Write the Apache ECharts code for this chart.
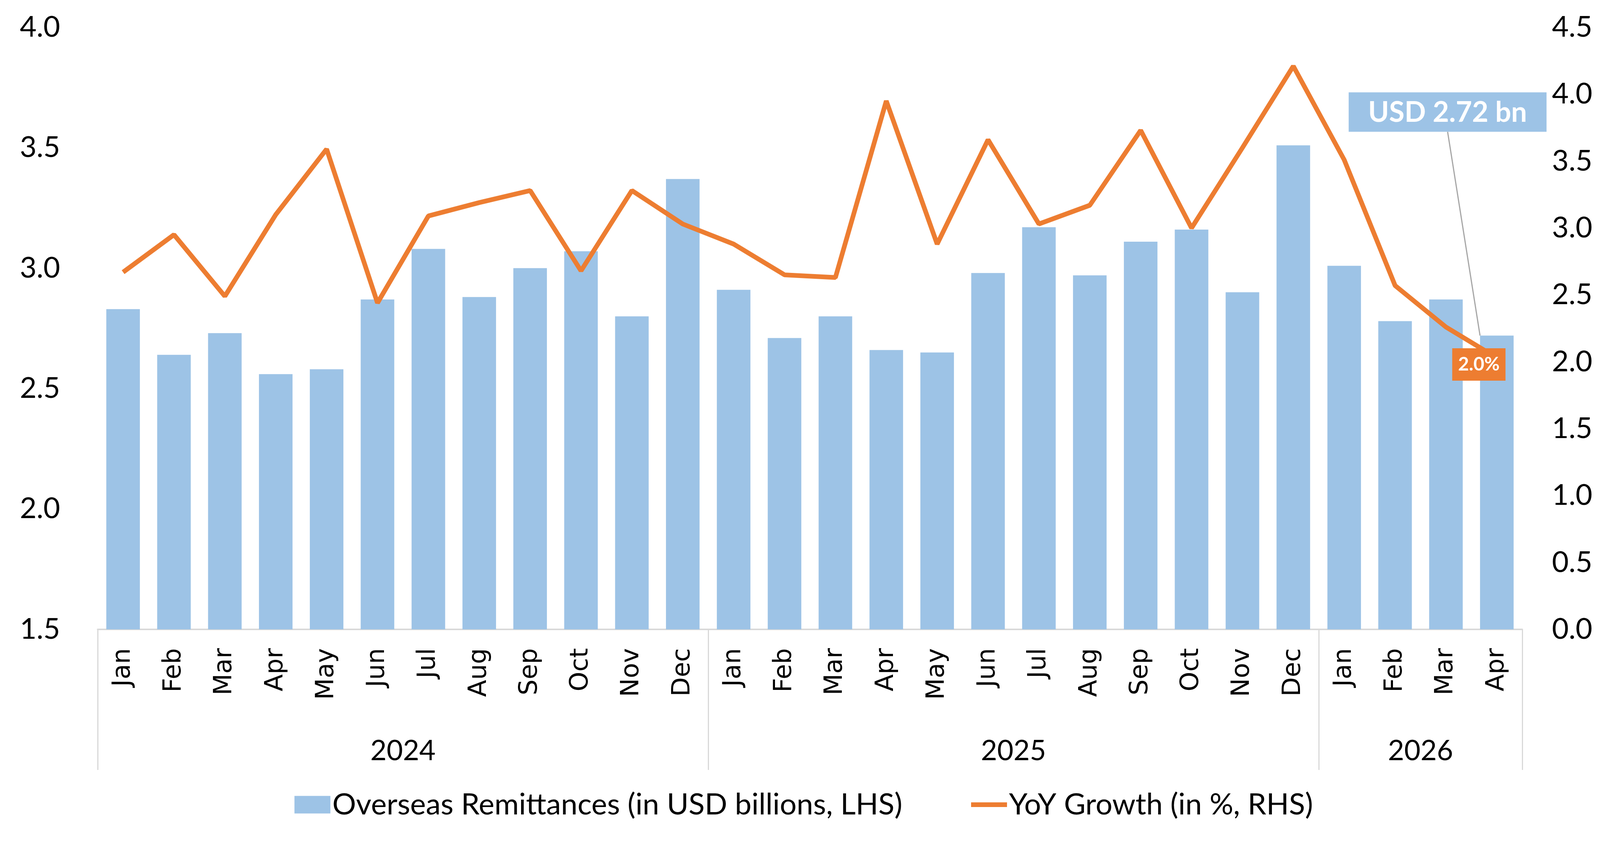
<!DOCTYPE html>
<html>
<head>
<meta charset="utf-8">
<script src="https://cdn.jsdelivr.net/npm/echarts@6/dist/echarts.min.js"></script>
<style>html,body{margin:0;padding:0;background:#fff;overflow:hidden;}#c{width:4115px;height:2154px;}</style>
</head>
<body>
<div id="c"></div>
<script>
// ---- data ----
const months = ['Jan','Feb','Mar','Apr','May','Jun','Jul','Aug','Sep','Oct','Nov','Dec',
                'Jan','Feb','Mar','Apr','May','Jun','Jul','Aug','Sep','Oct','Nov','Dec',
                'Jan','Feb','Mar','Apr'];
const years = ['2024','2025','2026'];
const monthsPerYear = [12, 12, 4];
const remittances = [2.83, 2.64, 2.73, 2.56, 2.58, 2.87, 3.08, 2.88, 3.00, 3.07, 2.80, 3.37,
                     2.91, 2.71, 2.80, 2.66, 2.65, 2.98, 3.17, 2.97, 3.11, 3.16, 2.90, 3.51,
                     3.01, 2.78, 2.87, 2.72];
const yoyGrowth = [2.67, 2.95, 2.49, 3.10, 3.59, 2.44, 3.09, 3.19, 3.28, 2.68, 3.28, 3.03,
                   2.88, 2.65, 2.63, 3.95, 2.88, 3.66, 3.03, 3.17, 3.73, 3.00, 3.60, 4.21,
                   3.51, 2.57, 2.26, 2.03];
const barName = 'Overseas Remittances (in USD billions, LHS)';
const lineName = 'YoY Growth (in %, RHS)';

// ---- derived ----
const last = remittances.length - 1;
const bounds = [0];
monthsPerYear.forEach(n => bounds.push(bounds[bounds.length - 1] + n));
const centers = years.map((y, i) => (bounds[i] + bounds[i + 1]) / 2);

const FONT = 'Lato';
const chart = echarts.init(document.getElementById('c'));
chart.setOption({
  backgroundColor: '#ffffff',
  animation: false,
  grid: { left: 250, right: 218, top: 70, bottom: 542, containLabel: false },
  legend: {
    left: 'center', top: 2018,
    itemWidth: 92, itemHeight: 45, itemGap: 176,
    textStyle: { fontFamily: FONT, fontSize: 76, color: '#000' },
    data: [
      { name: barName, icon: 'rect' },
      { name: lineName, icon: 'path://M0,0 L0,0 Z M0,16 L100,16 L100,29 L0,29 Z M0,45 L0,45 Z' }
    ]
  },
  xAxis: [
    {
      type: 'category', data: months, position: 'bottom',
      axisLine: { show: true, lineStyle: { color: '#D9D9D9', width: 4 } },
      axisTick: { show: false },
      axisLabel: { rotate: 90, margin: 48, fontFamily: 'DejaVu Sans', fontSize: 64, color: '#000', interval: 0 },
      splitLine: { show: false }
    },
    {
      type: 'value', min: 0, max: months.length, position: 'bottom',
      axisLine: { show: false },
      axisTick: { show: true, customValues: bounds, length: 360, lineStyle: { color: '#D9D9D9', width: 3 } },
      axisLabel: {
        customValues: centers, margin: 276, fontFamily: FONT, fontSize: 72, color: '#000',
        formatter: v => { const i = centers.indexOf(v); return i >= 0 ? years[i] : ''; }
      },
      splitLine: { show: false }
    }
  ],
  yAxis: [
    {
      type: 'value', min: 1.5, max: 4.0, interval: 0.5, position: 'left',
      axisLine: { show: false }, axisTick: { show: false }, splitLine: { show: false },
      axisLabel: { margin: 96, fontFamily: FONT, fontSize: 74, color: '#000', formatter: v => v.toFixed(1) }
    },
    {
      type: 'value', min: 0, max: 4.5, interval: 0.5, position: 'right',
      axisLine: { show: false }, axisTick: { show: false }, splitLine: { show: false },
      axisLabel: { margin: 76, fontFamily: FONT, fontSize: 74, color: '#000', formatter: v => v.toFixed(1) }
    }
  ],
  series: [
    {
      name: barName, type: 'bar', xAxisIndex: 0, yAxisIndex: 0,
      barCategoryGap: '34%',
      itemStyle: { color: '#9DC3E6' },
      data: remittances.map((v, i) => i === last ? {
        value: v,
        label: {
          show: true, position: 'top', distance: 5,
          formatter: p => 'USD ' + p.value.toFixed(2) + ' bn',
          backgroundColor: '#9DC3E6', color: '#fff', fontFamily: FONT, fontWeight: 'bold',
          fontSize: 72, padding: [16, 50, 13, 50]
        }
      } : v),
      labelLine: { show: true, lineStyle: { color: '#A6A6A6', width: 3 } },
      labelLayout: p => p.dataIndex === last ? { dx: -126, dy: -517 } : {},
      z: 2
    },
    {
      name: lineName, type: 'line', xAxisIndex: 0, yAxisIndex: 1,
      symbol: 'none',
      lineStyle: { color: '#ED7D31', width: 12 },
      itemStyle: { color: '#ED7D31' },
      data: yoyGrowth.map((v, i) => i === last ? {
        value: v, symbol: 'circle', symbolSize: 1,
        label: {
          show: true, position: 'inside', offset: [-46, 17],
          formatter: p => p.value.toFixed(1) + '%',
          backgroundColor: '#ED7D31', color: '#fff', fontFamily: FONT, fontWeight: 'bold',
          fontSize: 48, padding: [18, 15, 17, 15]
        }
      } : v),
      z: 3
    }
  ]
});
</script>
</body>
</html>
